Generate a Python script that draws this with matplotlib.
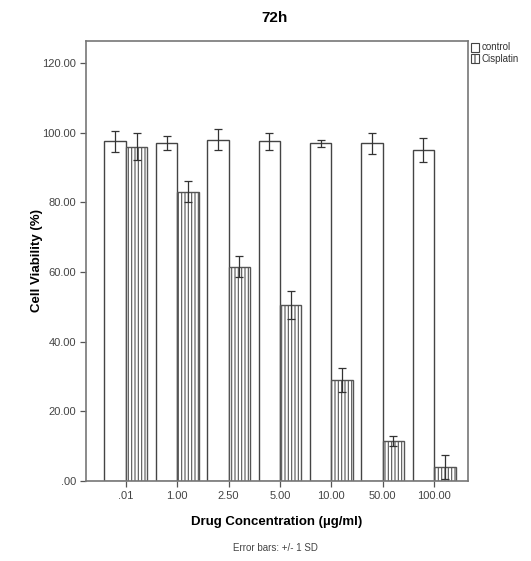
import matplotlib
matplotlib.use("Agg")
import matplotlib.pyplot as plt
import numpy as np
from matplotlib.patches import Rectangle

plt.rcParams['font.family'] = ['Liberation Sans', 'DejaVu Sans']
plt.rcParams['hatch.linewidth'] = 0.8

categories = [".01", "1.00", "2.50", "5.00", "10.00", "50.00", "100.00"]
control = [97.5, 97.0, 98.0, 97.5, 97.0, 97.0, 95.0]
control_sd = [3.0, 2.0, 3.0, 2.5, 1.0, 3.0, 3.5]
cisplatin = [96.0, 83.0, 61.5, 50.5, 29.0, 11.5, 4.0]
cisplatin_sd = [4.0, 3.0, 3.0, 4.0, 3.5, 1.5, 3.5]
yticks = [0, 20, 40, 60, 80, 100, 120]
ytick_labels = [".00", "20.00", "40.00", "60.00", "80.00", "100.00", "120.00"]

fig = plt.figure(figsize=(5.31, 5.61), dpi=100)
ax = fig.add_axes([86/531, 1-481/561, (468-86)/531, (481-41)/561])

x = np.arange(len(categories))
w = 0.417
ax.bar(x - w/2, control, width=w, color='white', edgecolor='#444444', linewidth=1.0)
ax.bar(x + w/2, cisplatin, width=w, color='white', edgecolor='#555555', linewidth=1.0, hatch='|||||')
ax.errorbar(x - w/2, control, yerr=control_sd, fmt='none', ecolor='#333333', elinewidth=0.9, capsize=3, capthick=0.9)
ax.errorbar(x + w/2, cisplatin, yerr=cisplatin_sd, fmt='none', ecolor='#333333', elinewidth=0.9, capsize=3, capthick=0.9)

ax.set_xlim(-0.777, 6.66)
ax.set_ylim(0, 126.3)
ax.set_xticks(x)
ax.set_xticklabels(categories, fontsize=8, color='#444444')
ax.set_yticks(yticks)
ax.set_yticklabels(ytick_labels, fontsize=8, color='#444444')
ax.tick_params(direction='out', length=4, width=0.9, color='#555555', pad=3)
for s in ax.spines.values():
    s.set_color('#777777')
    s.set_linewidth(1.2)

ax.set_ylabel("Cell Viability (%)", fontsize=9.5, fontweight='bold')
ax.yaxis.set_label_coords((43 - 86) / 382, 0.5)
ax.set_xlabel("Drug Concentration (\u00b5g/ml)", fontsize=9.5, fontweight='bold', labelpad=11)
fig.text(275/531, 1-18/561, "72h", fontsize=11, fontweight='bold', ha='center', va='center')
fig.text(275/531, 1-548/561, "Error bars: +/- 1 SD", fontsize=7, ha='center', va='center', color='#444444')

# legend
fig.patches.append(Rectangle((471/531, 1-52/561), 8/531, 9/561, transform=fig.transFigure,
                             facecolor='white', edgecolor='#444444', linewidth=0.8))
fig.patches.append(Rectangle((471/531, 1-63/561), 8/531, 9/561, transform=fig.transFigure,
                             facecolor='white', edgecolor='#444444', linewidth=0.8, hatch='|||'))
fig.text(482/531, 1-47.5/561, "control", fontsize=7, va='center', color='#333333')
fig.text(482/531, 1-58.5/561, "Cisplatin", fontsize=7, va='center', color='#333333')

fig.savefig("out.png", dpi=100)
